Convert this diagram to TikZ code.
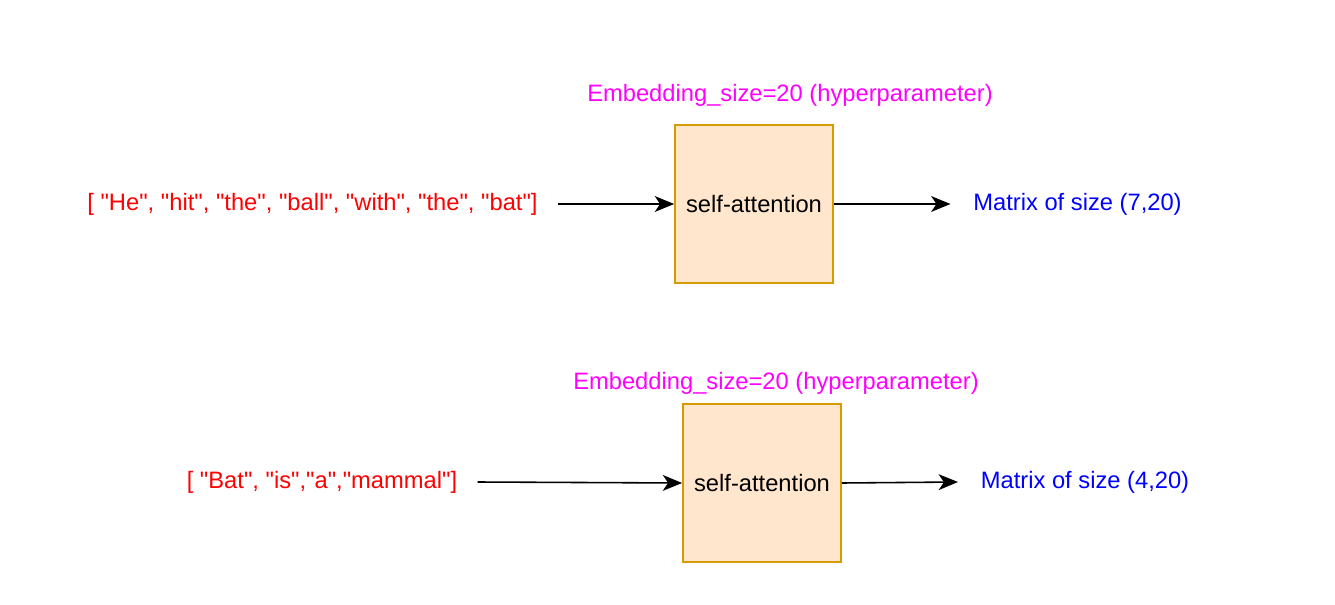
\documentclass[tikz,border=0pt]{standalone}
\usepackage{fontspec}
\setmainfont{Liberation Sans}
\usetikzlibrary{arrows.meta}
\definecolor{boxfill}{HTML}{FFE6CC}
\definecolor{boxline}{HTML}{D79B00}
\definecolor{hypercol}{HTML}{FF00FF}
\definecolor{tokcol}{HTML}{FF0000}
\definecolor{rescol}{HTML}{0000FF}
\newcommand{\qw}[1]{\textquotedbl#1\textquotedbl}
\begin{document}
\begin{tikzpicture}[
    font=\fontsize{13.5}{16}\selectfont,
    attn/.style={rectangle, draw=boxline, fill=boxfill, line width=1pt, minimum width=3.16cm, minimum height=3.16cm, inner sep=0pt},
    tokens/.style={text=tokcol, inner sep=0.4cm},
    result/.style={text=rescol, inner sep=0.45cm},
    hyper/.style={text=hypercol, inner sep=0pt},
    flow/.style={-{Stealth[length=11pt, width=9pt, inset=3pt]}, line width=0.9pt},
]
\useasboundingbox (0,0) rectangle (26.7,-12.1);

% first sentence
\node[attn] (sa1) at (15.08,-4.08) {self-attention};
\node[hyper] (emb1) at (15.8,-1.9) {Embedding\_size=20 (hyperparameter)};
\node[tokens] (in1) at (6.25,-4.08) {[ \qw{He}, \qw{hit}, \qw{the}, \qw{ball}, \qw{with}, \qw{the}, \qw{bat}]};
\node[result] (out1) at (21.55,-4.08) {Matrix of size (7,20)};
\draw[flow] (in1.east) -- (sa1.west);
\draw[flow] (sa1.east) -- (out1.west);

% second sentence
\node[attn] (sa2) at (15.24,-9.66) {self-attention};
\node[hyper] (emb2) at (15.52,-7.66) {Embedding\_size=20 (hyperparameter)};
\node[tokens] (in2) at (6.44,-9.64) {[ \qw{Bat}, \qw{is},\qw{a},\qw{mammal}]};
\node[result] (out2) at (21.7,-9.64) {Matrix of size (4,20)};
\draw[flow] (in2.east) -- (sa2.west);
\draw[flow] (sa2.east) -- (out2.west);

\end{tikzpicture}
\end{document}
